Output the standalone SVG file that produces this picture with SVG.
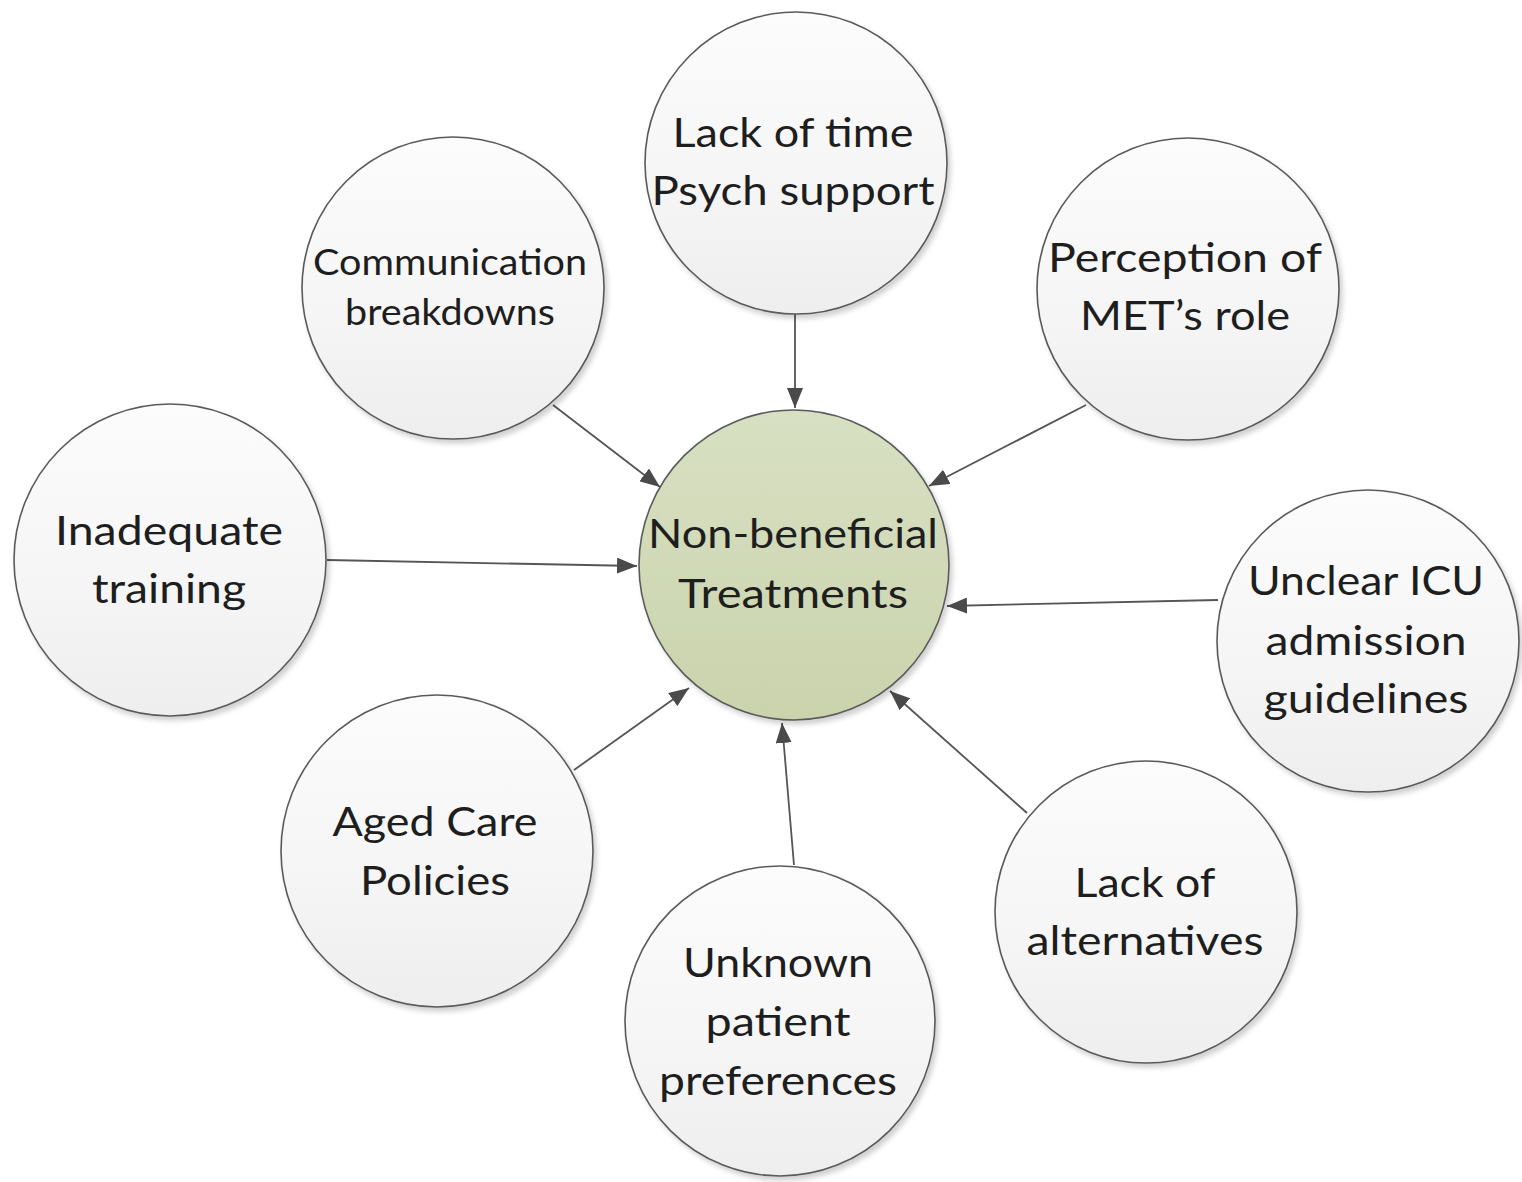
<svg xmlns="http://www.w3.org/2000/svg" width="1522" height="1182" viewBox="0 0 1522 1182">
  <style>
    .node { fill: url(#gradGrey); stroke: #5a5a5a; stroke-width: 1.6; filter: url(#shadow); }
    .hub { fill: url(#gradGreen); stroke: #5a5a5a; stroke-width: 1.6; filter: url(#shadow); }
    .label { font-family: Lato, "Liberation Sans", sans-serif; font-size: 41px; fill: #1e1e1e; text-anchor: middle; }
    .small { font-size: 36px; }
    .link { stroke: #555555; stroke-width: 1.8; fill: none; marker-end: url(#arrow); }
  </style>
  <defs>
    <linearGradient id="gradGrey" x1="0" y1="0" x2="0" y2="1">
      <stop offset="0" stop-color="#fcfcfc"/>
      <stop offset="0.6" stop-color="#f5f5f5"/>
      <stop offset="1" stop-color="#eeeeee"/>
    </linearGradient>
    <linearGradient id="gradGreen" x1="0" y1="0" x2="0" y2="1">
      <stop offset="0" stop-color="#d8e0c3"/>
      <stop offset="1" stop-color="#cad3ac"/>
    </linearGradient>
    <filter id="shadow" x="-10%" y="-10%" width="125%" height="125%">
      <feDropShadow dx="3" dy="4" stdDeviation="2.5" flood-color="#000000" flood-opacity="0.18"/>
    </filter>
    <marker id="arrow" viewBox="0 0 20 16" refX="20" refY="8" markerWidth="20" markerHeight="16" markerUnits="userSpaceOnUse" orient="auto">
      <path d="M0,0 L20,8 L0,16 z" fill="#4a4a4a"/>
    </marker>
  </defs>

  <!-- arrows pointing into the hub -->
  <g id="connectors">
    <line class="link" x1="795" y1="314" x2="795" y2="408"/>
    <line class="link" x1="553" y1="405" x2="660" y2="487"/>
    <line class="link" x1="1086" y1="405" x2="929" y2="486"/>
    <line class="link" x1="327" y1="560" x2="637" y2="566"/>
    <line class="link" x1="1218" y1="600" x2="947" y2="606"/>
    <line class="link" x1="574" y1="770" x2="689" y2="688"/>
    <line class="link" x1="794" y1="865" x2="782" y2="723"/>
    <line class="link" x1="1027" y1="813" x2="890" y2="691"/>
  </g>

  <g id="hub">
    <circle class="hub" cx="794" cy="565" r="155"/>
    <text class="label" x="793" y="548" textLength="290" lengthAdjust="spacingAndGlyphs">Non-beneficial</text>
    <text class="label" x="793" y="608" textLength="230" lengthAdjust="spacingAndGlyphs">Treatments</text>
  </g>

  <g id="lack-of-time">
    <circle class="node" cx="796" cy="163" r="151"/>
    <text class="label" x="793" y="147" textLength="241" lengthAdjust="spacingAndGlyphs">Lack of time</text>
    <text class="label" x="793" y="205" textLength="283" lengthAdjust="spacingAndGlyphs">Psych support</text>
  </g>

  <g id="communication">
    <circle class="node" cx="453" cy="288" r="151"/>
    <text class="label small" x="450" y="275" textLength="274" lengthAdjust="spacingAndGlyphs">Communication</text>
    <text class="label small" x="450" y="325" textLength="210" lengthAdjust="spacingAndGlyphs">breakdowns</text>
  </g>

  <g id="perception">
    <circle class="node" cx="1188" cy="289" r="151"/>
    <text class="label" x="1185" y="272" textLength="274" lengthAdjust="spacingAndGlyphs">Perception of</text>
    <text class="label" x="1185" y="330" textLength="210" lengthAdjust="spacingAndGlyphs">MET’s role</text>
  </g>

  <g id="inadequate-training">
    <circle class="node" cx="170" cy="560" r="156"/>
    <text class="label" x="169" y="545" textLength="228" lengthAdjust="spacingAndGlyphs">Inadequate</text>
    <text class="label" x="169" y="603" textLength="154" lengthAdjust="spacingAndGlyphs">training</text>
  </g>

  <g id="icu-guidelines">
    <circle class="node" cx="1368" cy="641" r="151"/>
    <text class="label" x="1366" y="595" textLength="236" lengthAdjust="spacingAndGlyphs">Unclear ICU</text>
    <text class="label" x="1366" y="655" textLength="201" lengthAdjust="spacingAndGlyphs">admission</text>
    <text class="label" x="1366" y="713" textLength="205" lengthAdjust="spacingAndGlyphs">guidelines</text>
  </g>

  <g id="aged-care">
    <circle class="node" cx="437" cy="851" r="156"/>
    <text class="label" x="435" y="836" textLength="205" lengthAdjust="spacingAndGlyphs">Aged Care</text>
    <text class="label" x="435" y="895" textLength="150" lengthAdjust="spacingAndGlyphs">Policies</text>
  </g>

  <g id="patient-preferences">
    <circle class="node" cx="780" cy="1021" r="155"/>
    <text class="label" x="778" y="977" textLength="190" lengthAdjust="spacingAndGlyphs">Unknown</text>
    <text class="label" x="778" y="1036" textLength="145" lengthAdjust="spacingAndGlyphs">patient</text>
    <text class="label" x="778" y="1095" textLength="238" lengthAdjust="spacingAndGlyphs">preferences</text>
  </g>

  <g id="alternatives">
    <circle class="node" cx="1146" cy="912" r="151"/>
    <text class="label" x="1145" y="897" textLength="141" lengthAdjust="spacingAndGlyphs">Lack of</text>
    <text class="label" x="1145" y="955" textLength="237" lengthAdjust="spacingAndGlyphs">alternatives</text>
  </g>
</svg>
